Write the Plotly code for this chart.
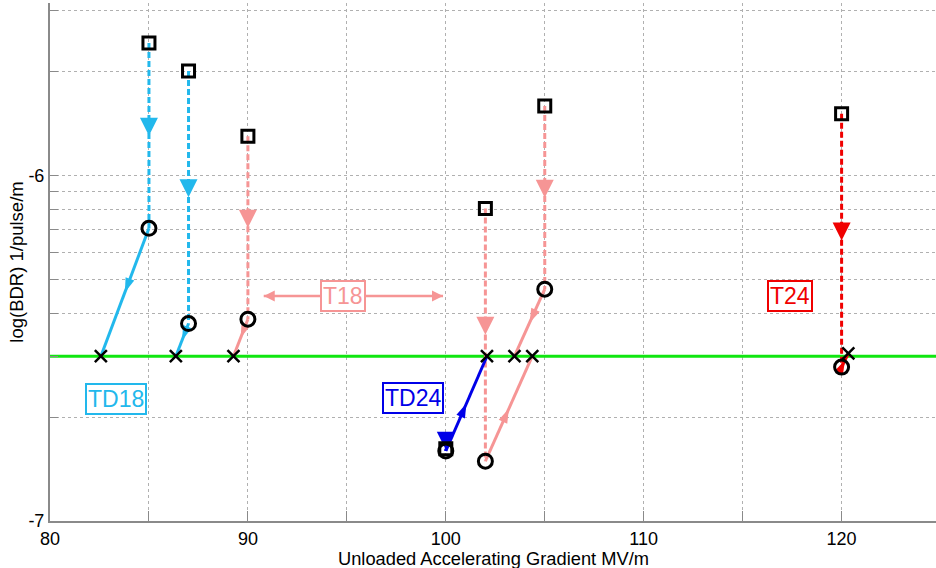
import math
import plotly.graph_objects as go

# ---------------- data ----------------
# TD18 (cyan)
td18_gradient = [85.0, 87.0]
td18_bdr_unloaded = [2.42e-6, 2.01e-6]
td18_bdr_loaded = [7.04e-7, 3.73e-7]
td18_gradient_target = [82.57, 86.36]
td18_bdr_target = [3.0e-7, 3.0e-7]

# T18 (pink)
t18_gradient = [90.0, 102.0, 105.0]
t18_bdr_unloaded = [1.30e-6, 8.04e-7, 1.59e-6]
t18_bdr_loaded = [3.84e-7, 1.49e-7, 4.69e-7]
t18_gradient_target = [89.27, 104.37, 103.47]
t18_bdr_target = [3.0e-7, 3.0e-7, 3.0e-7]

# TD24 (blue)
td24_gradient = [100.0]
td24_bdr_unloaded = [1.62e-7]
td24_bdr_loaded = [1.595e-7]
td24_gradient_target = [102.08]
td24_bdr_target = [3.0e-7]

# T24 (red)
t24_gradient = [120.0]
t24_bdr_unloaded = [1.51e-6]
t24_bdr_loaded = [2.79e-7]
t24_gradient_target = [120.34]
t24_bdr_target = [3.06e-7]

target_bdr = 3.0e-7
t18_span_gradient = [90.8, 99.86]
t18_span_bdr = 4.48e-7

x_range = [80, 124.77]
x_tick_vals = [80, 85, 90, 95, 100, 105, 110, 115, 120]
x_tick_text = ["80", "", "90", "", "100", "", "110", "", "120"]
y_tick_vals = [1e-7, 2e-7, 3e-7, 4e-7, 5e-7, 6e-7, 7e-7, 8e-7, 9e-7, 1e-6, 2e-6, 3e-6]
y_tick_text = ["-7", "", "", "", "", "", "", "", "", "-6", "", ""]

# ---------------- style ----------------
FONT = "Liberation Sans, Arial, sans-serif"
C_TD18 = "#22B8EC"
C_T18 = "#F69595"
C_TD24 = "#0000E8"
C_T24 = "#F00000"
C_GREEN = "#10E610"
AX = "#8a8a8a"
GRID = "#b0b0b0"

series = [
    ("TD18", C_TD18, td18_gradient, td18_bdr_unloaded, td18_bdr_loaded, td18_gradient_target, td18_bdr_target),
    ("T18", C_T18, t18_gradient, t18_bdr_unloaded, t18_bdr_loaded, t18_gradient_target, t18_bdr_target),
    ("TD24", C_TD24, td24_gradient, td24_bdr_unloaded, td24_bdr_loaded, td24_gradient_target, td24_bdr_target),
    ("T24", C_T24, t24_gradient, t24_bdr_unloaded, t24_bdr_loaded, t24_gradient_target, t24_bdr_target),
]

fig = go.Figure()

# green target line (first trace, under everything else)
fig.add_trace(go.Scatter(x=x_range, y=[target_bdr, target_bdr], mode="lines",
                         line=dict(color=C_GREEN, width=3), hoverinfo="skip", showlegend=False))


def segment(x0, y0, x1, y1, color, dash, symbol, size):
    xm = (x0 + x1) / 2.0
    ym = math.sqrt(y0 * y1)
    fig.add_trace(go.Scatter(
        x=[x0, xm, x1], y=[y0, ym, y1], mode="lines+markers",
        line=dict(color=color, width=3, dash=dash),
        marker=dict(symbol=symbol, size=[0, size, 0], color=color, opacity=1,
                    angleref="previous", line=dict(width=0)),
        hoverinfo="skip", showlegend=False))


# coloured arrows
for name, col, gx, unl, lod, gt, bt in series:
    for i in range(len(gx)):
        segment(gx[i], unl[i], gx[i], lod[i], col, "6px,3px", "arrow-up", 18)
        segment(gx[i], lod[i], gt[i], bt[i], col, "solid", "arrow", 15)

# T18 double arrow
fig.add_trace(go.Scatter(
    x=t18_span_gradient, y=[t18_span_bdr, t18_span_bdr], mode="lines+markers",
    line=dict(color=C_T18, width=2.5),
    marker=dict(symbol=["arrow-left", "arrow-right"], size=11, color=C_T18, line=dict(width=0)),
    hoverinfo="skip", showlegend=False))

# black markers
all_g, all_u, all_l, all_gt, all_bt = [], [], [], [], []
for name, col, gx, unl, lod, gt, bt in series:
    all_g += gx
    all_u += unl
    all_l += lod
    all_gt += gt
    all_bt += bt

fig.add_trace(go.Scatter(x=all_g, y=all_u, mode="markers",
                         marker=dict(symbol="square-open", size=12, color="black", line=dict(width=3)),
                         showlegend=False, hoverinfo="skip"))
fig.add_trace(go.Scatter(x=all_g, y=all_l, mode="markers",
                         marker=dict(symbol="circle-open", size=14, color="black", line=dict(width=3)),
                         showlegend=False, hoverinfo="skip"))
fig.add_trace(go.Scatter(x=all_gt, y=all_bt, mode="markers",
                         marker=dict(symbol="x-thin", size=12, color="black", line=dict(width=2.5, color="black")),
                         showlegend=False, hoverinfo="skip"))

# labels
labels = [
    ("TD18", C_TD18, 83.36, -6.647),
    ("T18", C_T18, 94.8, -6.347),
    ("TD24", C_TD24, 98.34, -6.644),
    ("T24", C_T24, 117.39, -6.347),
]
for txt, col, lx, ly in labels:
    fig.add_annotation(x=lx, y=ly, xref="x", yref="y", text=txt, showarrow=False,
                       font=dict(family=FONT, size=23, color=col),
                       bordercolor=col, borderwidth=2, borderpad=1, bgcolor="white")

# x-axis title placed as annotation for exact vertical position
fig.add_annotation(x=0.5, y=-0.072, xref="paper", yref="paper", xanchor="center", yanchor="middle",
                   text="Unloaded Accelerating Gradient MV/m", showarrow=False,
                   font=dict(family=FONT, size=18.3, color="black"))

fig.update_layout(
    width=936, height=568,
    margin=dict(l=50, r=0, t=3, b=47),
    paper_bgcolor="white", plot_bgcolor="white",
    font=dict(family=FONT, size=18, color="black"),
    xaxis=dict(range=x_range, tickmode="array", tickvals=x_tick_vals, ticktext=x_tick_text,
               ticks="inside", ticklen=10, tickwidth=1, tickcolor=AX,
               showline=True, linecolor=AX, linewidth=2, mirror=False,
               showgrid=True, gridcolor=GRID, griddash="dot", gridwidth=1, zeroline=False),
    yaxis=dict(type="log", range=[-7, -5.5], tickmode="array", tickvals=y_tick_vals, ticktext=y_tick_text,
               ticks="inside", ticklen=8, tickwidth=1, tickcolor=AX,
               showline=True, linecolor=AX, linewidth=2,
               showgrid=True, gridcolor=GRID, griddash="dot", gridwidth=1, zeroline=False,
               title=dict(text="log(BDR) 1/pulse/m", font=dict(size=18.5), standoff=0)),
)

fig.write_html("out.html")
